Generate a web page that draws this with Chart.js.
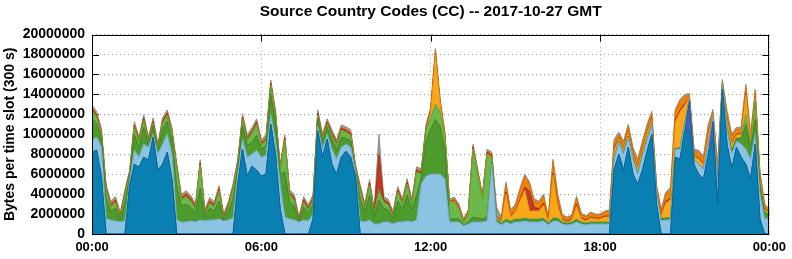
<!DOCTYPE html>
<html>
<head>
<meta charset="utf-8">
<script src="https://cdn.jsdelivr.net/npm/chart.js@4/dist/chart.umd.min.js"></script>
<style>
  html, body { margin: 0; padding: 0; background: #fff; }
</style>
</head>
<body>
<canvas id="ccChart" width="792" height="259"></canvas>
<script>
/* ── DATA (millions of bytes per 300 s slot, read every 10 min) ── */
const TITLE = 'Source Country Codes (CC) -- 2017-10-27 GMT';
const Y_TITLE = 'Bytes per time slot (300 s)';
const yTicks = [0, 2, 4, 6, 8, 10, 12, 14, 16, 18, 20];

// slot labels, 00:00 .. 24:00 every 10 min
const slots = [];
for (let i = 0; i <= 144; i++) {
  const m = (i * 10) % 1440;
  slots.push(String(Math.floor(m / 60)).padStart(2, '0') + ':' + String(m % 60).padStart(2, '0'));
}

// one row = one hour (6 slots), last value = 24:00
const dblue = [
  8.2, 8.4, 5.7, 0, 0, 0,
  0, 0, 4.8, 7.0, 6.7, 7.7,
  7.4, 9.7, 6.4, 7.0, 8.2, 5.5,
  0, 0, 0, 0, 0, 0,
  0, 0, 0, 0, 0, 0,
  0, 5.0, 8.5, 5.8, 6.8, 6.4,
  5.8, 6.0, 11.0, 8.0, 2.5, 0,
  0, 0, 0, 0, 0, 1.5,
  10.3, 7.7, 9.5, 7.0, 6.0, 7.7,
  8.3, 7.7, 5.8, 0, 0, 0,
  0, 0, 0, 0, 0, 0,
  0, 0, 0, 0, 0, 0,
  0, 0, 0, 0, 0, 0,
  0, 0, 0, 0, 0, 0,
  0, 0, 0, 0, 0, 0,
  0, 0, 0, 0, 0, 0,
  0, 0, 0, 0, 0, 0,
  0, 0, 0, 0, 0, 0,
  0, 0, 0, 6.5, 8.0, 6.4,
  8.7, 6.0, 5.0, 6.4, 8.3, 10.0,
  3.0, 0, 0, 0, 7.7, 7.5,
  10.3, 10.3, 6.9, 6.0, 5.5, 8.0,
  9.5, 3.0, 14.5, 9.0, 6.6, 8.7,
  7.7, 7.0, 5.5, 9.0, 1.5, 0,
  0
];
const royal = [
  0, 0, 0, 0, 0, 0,  0, 0, 0, 0, 0, 0,  0, 0, 0, 0, 0, 0,  0, 0, 0, 0, 0, 0,
  0, 0, 0, 0, 0, 0,  0, 0, 0, 0, 0, 0,  0, 0, 0, 0, 0, 0,  0, 0, 0, 0, 0, 0,
  0, 0, 0, 0, 0, 0,  0, 0, 0, 0, 0, 0,  0, 0, 0, 0, 0, 0,  0, 0, 0, 0, 0, 0,
  0, 0, 0, 0, 0, 0,  0, 0, 0, 0, 0, 0,  0, 0, 0, 0, 0, 0,  0, 0, 0, 0, 0, 0,
  0, 0, 0, 0, 0, 0,  0, 0, 0, 0, 0, 0,  0, 0, 0, 0, 0, 0,  0, 0, 0, 0, 0, 0,
  0, 0, 0, 0, 0, 0,
  0, 3.0, 0, 0, 0, 0,
  1.8, 0, 0, 0, 0, 0,
  0, 0, 0, 0, 0, 0,
  0
];
const lblue = [
  1.2, 1.3, 3.0, 1.5, 1.4, 1.3,
  1.2, 1.3, 0.5, 1.4, 1.0, 1.3,
  1.3, 0.3, 1.6, 2.0, 1.8, 2.5,
  1.4, 1.2, 1.2, 1.3, 1.2, 1.4,
  1.3, 1.4, 1.4, 1.5, 1.3, 1.4,
  1.6, 1.0, 1.0, 1.9, 1.2, 2.0,
  1.9, 1.9, 1.0, 1.4, 2.5, 1.7,
  1.5, 1.4, 1.2, 1.4, 1.3, 0.5,
  0.5, 0.8, 0.5, 1.5, 1.5, 1.0,
  0.7, 1.0, 0.5, 1.3, 1.2, 1.4,
  1.0, 1.0, 1.2, 1.2, 1.0, 1.2,
  1.2, 1.3, 1.2, 1.4, 5.0, 5.8,
  6.0, 6.0, 6.0, 5.5, 1.2, 1.2,
  1.2, 0.8, 1.0, 1.2, 1.2, 1.2,
  1.3, 7.0, 1.2, 0.9, 1.2, 1.0,
  1.2, 1.2, 1.3, 1.2, 1.2, 1.2,
  1.3, 0.9, 1.3, 1.3, 1.0, 0.9,
  1.0, 1.2, 1.0, 0.9, 1.0, 1.0,
  1.0, 1.0, 1.0, 1.0, 1.2, 1.6,
  1.0, 1.5, 1.0, 1.4, 1.1, 1.0,
  1.0, 1.3, 1.4, 1.4, 0.8, 1.0,
  0.7, 0.3, 0.6, 1.0, 1.0, 1.0,
  0.5, 2.0, 0.5, 1.5, 1.4, 0.6,
  1.3, 1.5, 2.0, 1.0, 2.5, 1.5,
  1.6
];
const dgreen = [
  2.2, 1.4, 0.9, 2.1, 0.9, 1.3,
  0.3, 1.8, 0.4, 1.6, 1.0, 1.7,
  0.3, 0.8, 0.3, 1.5, 1.3, 1.5,
  3.5, 1.6, 1.8, 1.4, 0.9, 3.2,
  0.4, 1.2, 0.9, 1.8, 0.1, 0.9,
  2.0, 0.7, 1.4, 1.2, 1.2, 1.5,
  0.8, 1.0, 2.0, 1.8, 1.0, 4.5,
  1.7, 1.4, 0.0, 1.3, 0.8, 1.0,
  0.8, 0.7, 0.7, 1.0, 1.0, 1.0,
  0.6, 0.6, 0.1, 2.2, 0.9, 2.5,
  0.7, 2.4, 1.4, 1.2, 0.5, 2.1,
  1.3, 2.6, 1.2, 2.5, 0.7, 3.5,
  4.5, 5.5, 4.8, 3.0, 0.3, 0.3,
  0.3, 0.1, 0.2, 0.5, 0.4, 0.3,
  0.4, 0.2, 0.2, 0.1, 0.2, 0.2,
  0.2, 0.2, 0.2, 0.2, 0.2, 0.2,
  0.2, 0.1, 0.2, 0.2, 0.1, 0.1,
  0.1, 0.2, 0.1, 0.1, 0.1, 0.1,
  0.1, 0.1, 0.1, 0.1, 0.1, 0.1,
  0.1, 0.1, 0.1, 0.1, 0.1, 0.1,
  0.1, 0.2, 0.2, 0.2, 0.1, 0.1,
  0.1, 0, 0, 0, 0, 0,
  0, 0.2, 0, 0.2, 0.3, 0.3,
  0.5, 2.5, 1.0, 1.5, 0.8, 0.6,
  0.3
];
const lgreen = [
  0.8, 0.6, 0.4, 0.8, 0.4, 0.6,
  0.1, 0.8, 0.2, 0.7, 0.5, 0.7,
  0.2, 0.3, 0.2, 0.6, 0.6, 0.6,
  1.7, 0.6, 0.8, 0.6, 0.4, 2.3,
  0.2, 0.5, 0.4, 1.0, 0.1, 0.4,
  0.9, 0.3, 0.6, 0.5, 0.9, 1.1,
  0.4, 0.5, 0.9, 0.7, 0.4, 3.2,
  0.7, 0.6, 0.0, 0.5, 0.3, 0.4,
  0.3, 0.3, 0.3, 0.4, 0.4, 0.7,
  0.6, 0.6, 0.1, 0.9, 0.4, 1.0,
  0.3, 1.0, 0.6, 0.5, 0.2, 0.9,
  0.5, 1.1, 0.5, 2.3, 0.3, 1.1,
  1.2, 1.5, 1.5, 1.2, 1.5, 1.7,
  1.0, 0.2, 0.8, 6.7, 4.4, 2.0,
  6.2, 0.4, 0.2, 0.1, 0.1, 0.1,
  0.1, 0.1, 0.1, 0.1, 0.1, 0.1,
  0.1, 0.1, 0.1, 0.1, 0.1, 0.1,
  0.1, 0.1, 0.1, 0.1, 0.1, 0.1,
  0.1, 0.1, 0.1, 0, 0, 0,
  0, 0, 0, 0, 0, 0,
  0, 0, 0, 0, 0, 0,
  0, 0, 0, 0, 0, 0,
  0, 0, 0, 0, 0, 0,
  0.2, 1.0, 0.3, 1.8, 0.3, 0.2,
  0.1
];
const gold = [
  0, 0, 0, 0, 0, 0,  0, 0, 0, 0, 0, 0,  0, 0, 0, 0, 0, 0,  0, 0, 0, 0, 0, 0,
  0, 0, 0, 0, 0, 0,  0, 0, 0, 0, 0, 0,  0, 0, 0, 0, 0, 0,  0, 0, 0, 0, 0, 0,
  0, 0, 0, 0, 0, 0,  0, 0, 0, 0, 0, 0,  0, 0, 0, 0, 0, 0,  0, 0, 0, 0, 0, 0,
  0.5, 5.0, 0.8, 0.2, 0.1, 0.1,
  0.1, 0.1, 0.1, 0.1, 0.1, 0.1,
  0.1, 0.1, 0.1, 0.1, 2.5, 0.4,
  0.7, 1.8, 2.8, 0.8, 0.8, 0.8,
  1.3, 0.1, 4.3, 1.2, 0.2, 0.1,
  0.2, 1.3, 0.3, 0.2, 0.4, 0.3,
  0.3, 0.5, 0.5, 0.8, 0.3, 0.4,
  0.4, 0.3, 0.5, 0.5, 0.6, 0.4,
  0.3, 0.3, 1.5, 1.8, 2.6, 3.6,
  1.8, 0, 0.3, 0.5, 0.4, 0.9,
  0, 0.8, 0, 0.7, 0.7, 0.3,
  0.3, 2.0, 0.4, 0.4, 0.4, 0.2,
  0.1
];
const red = [
  0.2, 0.2, 0.2, 0.2, 0.2, 0.2,  0.2, 0.2, 0.2, 0.2, 0.2, 0.2,
  0.2, 0.2, 0.2, 0.2, 0.2, 0.2,  0.2, 0.2, 0.2, 0.2, 0.2, 0.2,
  0.2, 0.2, 0.2, 0.2, 0.2, 0.2,  0.2, 0.2, 0.2, 0.2, 0.2, 0.2,
  0.2, 0.2, 0.2, 0.2, 0.2, 0.2,  0.2, 0.2, 0.2, 0.2, 0.2, 0.2,
  0.2, 0.2, 0.2, 0.2, 0.2, 0.2,  0.2, 0.2, 0.2, 0.2, 0.2, 0.2,
  0.2, 3.5, 0.2, 0.2, 0.2, 0.2,
  0.2, 0.2, 0.2, 0.2, 0.2, 0.2,
  0.2, 0.1, 0.1, 0.1, 0.1, 0.1,
  0.1, 0.1, 0.1, 0.2, 0.1, 0.1,
  0.2, 0.2, 0.1, 0.1, 0.2, 0.1,
  0.1, 0.2, 0.3, 2.0, 0.4, 0.2,
  0.2, 0.1, 0.2, 0.2, 0.1, 0.1,
  0.1, 0.2, 0.1, 0.1, 0.1, 0.1,
  0.1, 0.1, 0.1, 0.2, 0.1, 0.1,
  0.1, 0.1, 0.1, 0.1, 0.1, 0.1,
  0.1, 0.1, 0.2, 0.2, 0.2, 0.2,
  0.2, 0, 0.1, 0.1, 0.1, 0.1,
  0, 0.2, 0, 0.1, 0.1, 0.1,
  0.1, 0.1, 0.1, 0.1, 0.1, 0.1,
  0.1
];
const orange = [
  0.1, 0.1, 0.1, 0.1, 0.1, 0.1,  0.1, 0.1, 0.1, 0.1, 0.1, 0.1,
  0.1, 0.1, 0.1, 0.1, 0.1, 0.1,  0.1, 0.1, 0.1, 0.1, 0.1, 0.1,
  0.1, 0.1, 0.1, 0.1, 0.1, 0.1,  0.1, 0.1, 0.1, 0.1, 0.1, 0.1,
  0.1, 0.1, 0.1, 0.1, 0.1, 0.1,  0.1, 0.1, 0.1, 0.1, 0.1, 0.1,
  0.1, 0.1, 0.1, 0.1, 0.1, 0.1,  0.1, 0.1, 0.1, 0.1, 0.1, 0.1,
  0.1, 0.1, 0.1, 0.1, 0.1, 0.1,  0.1, 0.1, 0.1, 0.1, 0.1, 0.1,
  0.1, 0.3, 0.2, 0.2, 0.1, 0.1,
  0.1, 0.1, 0.1, 0.1, 0.1, 0.1,
  0.1, 0.1, 0.1, 0.1, 0.8, 0.4,
  0.5, 0.9, 1.1, 0.7, 0.6, 0.6,
  0.7, 0.3, 1.2, 0.8, 0.3, 0.3,
  0.3, 0.6, 0.4, 0.3, 0.4, 0.3,
  0.3, 0.4, 0.5, 0.6, 0.3, 0.5,
  0.5, 0.5, 0.6, 0.6, 0.6, 0.5,
  0.3, 0.4, 0.7, 0.9, 0.9, 0.9,
  0.7, 0.3, 0.4, 0.6, 0.6, 0.7,
  0.4, 0.6, 0.3, 0.6, 0.7, 0.5,
  0.4, 0.7, 0.5, 0.5, 0.5, 0.3,
  0.2
];
const gray = [
  0.25, 0.25, 0.25, 0.25, 0.25, 0.25,  0.25, 0.25, 0.25, 0.25, 0.25, 0.25,
  0.25, 0.25, 0.25, 0.25, 0.25, 0.25,  0.25, 0.25, 0.25, 0.25, 0.25, 0.25,
  0.25, 0.25, 0.25, 0.25, 0.25, 0.25,  0.25, 0.25, 0.25, 0.25, 0.25, 0.25,
  0.25, 0.25, 0.25, 0.25, 0.25, 0.25,  0.25, 0.25, 0.25, 0.25, 0.25, 0.25,
  0.25, 0.25, 0.25, 0.25, 0.25, 0.25,  0.25, 0.25, 0.25, 0.25, 0.25, 0.25,
  0.25, 2.0, 0.25, 0.25, 0.25, 0.25,
  0.25, 0.25, 0.25, 0.25, 0.25, 0.25,
  0.2, 0.2, 0.1, 0.1, 0.2, 0.2,
  0.2, 0.1, 0.1, 0.2, 0.2, 0.2,
  0.2, 0.2, 0.8, 0.3, 0.2, 0.2,
  0.2, 0.2, 0.2, 0.2, 0.2, 0.2,
  0.2, 0.1, 0.2, 0.2, 0.1, 0.1,
  0.1, 0.2, 0.1, 0.1, 0.1, 0.1,
  0.1, 0.1, 0.1, 0.3, 0.2, 0.2,
  0.2, 0.2, 0.2, 0.2, 0.2, 0.2,
  0.2, 0.2, 0.2, 0.2, 0.2, 0.2,
  0.2, 0.2, 0.2, 0.2, 0.2, 0.3,
  0.3, 0.2, 0.2, 0.2, 0.2, 0.2,
  0.2, 0.2, 0.2, 0.2, 0.2, 0.1,
  0.1
];

// ── STYLE ───────────────────────────────────────
const FONT = "'Liberation Sans', Arial, sans-serif";
Chart.defaults.font.family = FONT;
Chart.defaults.color = '#000';

// bottom → top
const layers = [
  { label: 'dblue',  data: dblue,  fill: '#0a80b2', line: '#06699a' },
  { label: 'royal',  data: royal,  fill: '#3d66b3', line: '#2d4f95' },
  { label: 'lblue',  data: lblue,  fill: '#8cc3e2', line: '#74abcc' },
  { label: 'dgreen', data: dgreen, fill: '#4d9a2d', line: '#3f8124' },
  { label: 'lgreen', data: lgreen, fill: '#6cb84a', line: '#5aa33c' },
  { label: 'gold',   data: gold,   fill: '#f9a81a', line: '#eb980f' },
  { label: 'red',    data: red,    fill: '#c0392b', line: '#a82e20' },
  { label: 'orange', data: orange, fill: '#ef8200', line: '#dc7200' },
  { label: 'gray',   data: gray,   fill: '#9c9c9c', line: '#8c8c8c' }
];

// ── FRAME + INNER TICKS (gnuplot look) ──────────
const frame = {
  id: 'frame',
  beforeDatasetsDraw(chart) {
    const { ctx, chartArea: a, scales: { x, y } } = chart;
    ctx.save();
    ctx.strokeStyle = '#000';
    ctx.lineWidth = 1;
    ctx.beginPath();
    yTicks.forEach(v => {
      const py = Math.round(y.getPixelForValue(v)) + 0.5;
      ctx.moveTo(a.left, py); ctx.lineTo(a.left + 7, py);
      ctx.moveTo(a.right - 7, py); ctx.lineTo(a.right, py);
    });
    [36, 72, 108].forEach(i => {
      const px = Math.round(x.getPixelForValue(i)) + 0.5;
      ctx.moveTo(px, a.top); ctx.lineTo(px, a.top + 7);
    });
    ctx.stroke();
    ctx.restore();
  },
  afterDatasetsDraw(chart) {
    const { ctx, chartArea: a } = chart;
    ctx.save();
    ctx.strokeStyle = '#000';
    ctx.lineWidth = 1;
    ctx.strokeRect(Math.round(a.left) + 0.5, Math.round(a.top) + 0.5,
                   Math.round(a.right - a.left) - 1, Math.round(a.bottom - a.top));
    ctx.restore();
  }
};

new Chart(document.getElementById('ccChart'), {
  type: 'line',
  data: {
    labels: slots,
    datasets: layers.map((l, i) => ({
      label: l.label,
      data: l.data,
      backgroundColor: l.fill,
      borderColor: l.line,
      borderWidth: 1,
      pointRadius: 0,
      tension: 0,
      fill: i === 0 ? 'origin' : '-1'
    }))
  },
  options: {
    responsive: false,
    animation: false,
    events: [],
    layout: { padding: { left: 0, right: 22, top: 0, bottom: 0 } },
    plugins: {
      legend: { display: false },
      tooltip: { enabled: false },
      title: {
        display: true,
        text: TITLE,
        fullSize: false,
        color: '#000',
        font: { family: FONT, size: 15.5, weight: 'bold' },
        padding: { top: 2, bottom: 14 }
      }
    },
    scales: {
      x: {
        type: 'category',
        offset: false,
        afterFit: s => { s.height = 25; },
        grid: { color: '#a8a8a8', lineWidth: 1, drawTicks: false },
        border: { display: false, dash: [1, 3] },
        ticks: {
          autoSkip: false,
          maxRotation: 0,
          padding: 6,
          color: '#000',
          font: { family: FONT, size: 13, weight: 'bold' },
          callback: (v, i) => (i % 36 === 0 ? slots[i] : null)
        }
      },
      y: {
        stacked: true,
        min: 0,
        max: 20,
        afterFit: s => { s.width = 92; },
        grid: { color: '#a8a8a8', lineWidth: 1, drawTicks: false },
        border: { display: false, dash: [1, 3] },
        title: {
          display: true,
          text: Y_TITLE,
          color: '#000',
          font: { family: FONT, size: 14, weight: 'bold' },
          padding: { top: 2, bottom: 0 }
        },
        ticks: {
          stepSize: 2,
          padding: 7,
          color: '#000',
          font: { family: FONT, size: 14, weight: 'bold' },
          callback: v => String(v * 1000000)
        }
      }
    }
  },
  plugins: [frame]
});
</script>
</body>
</html>
